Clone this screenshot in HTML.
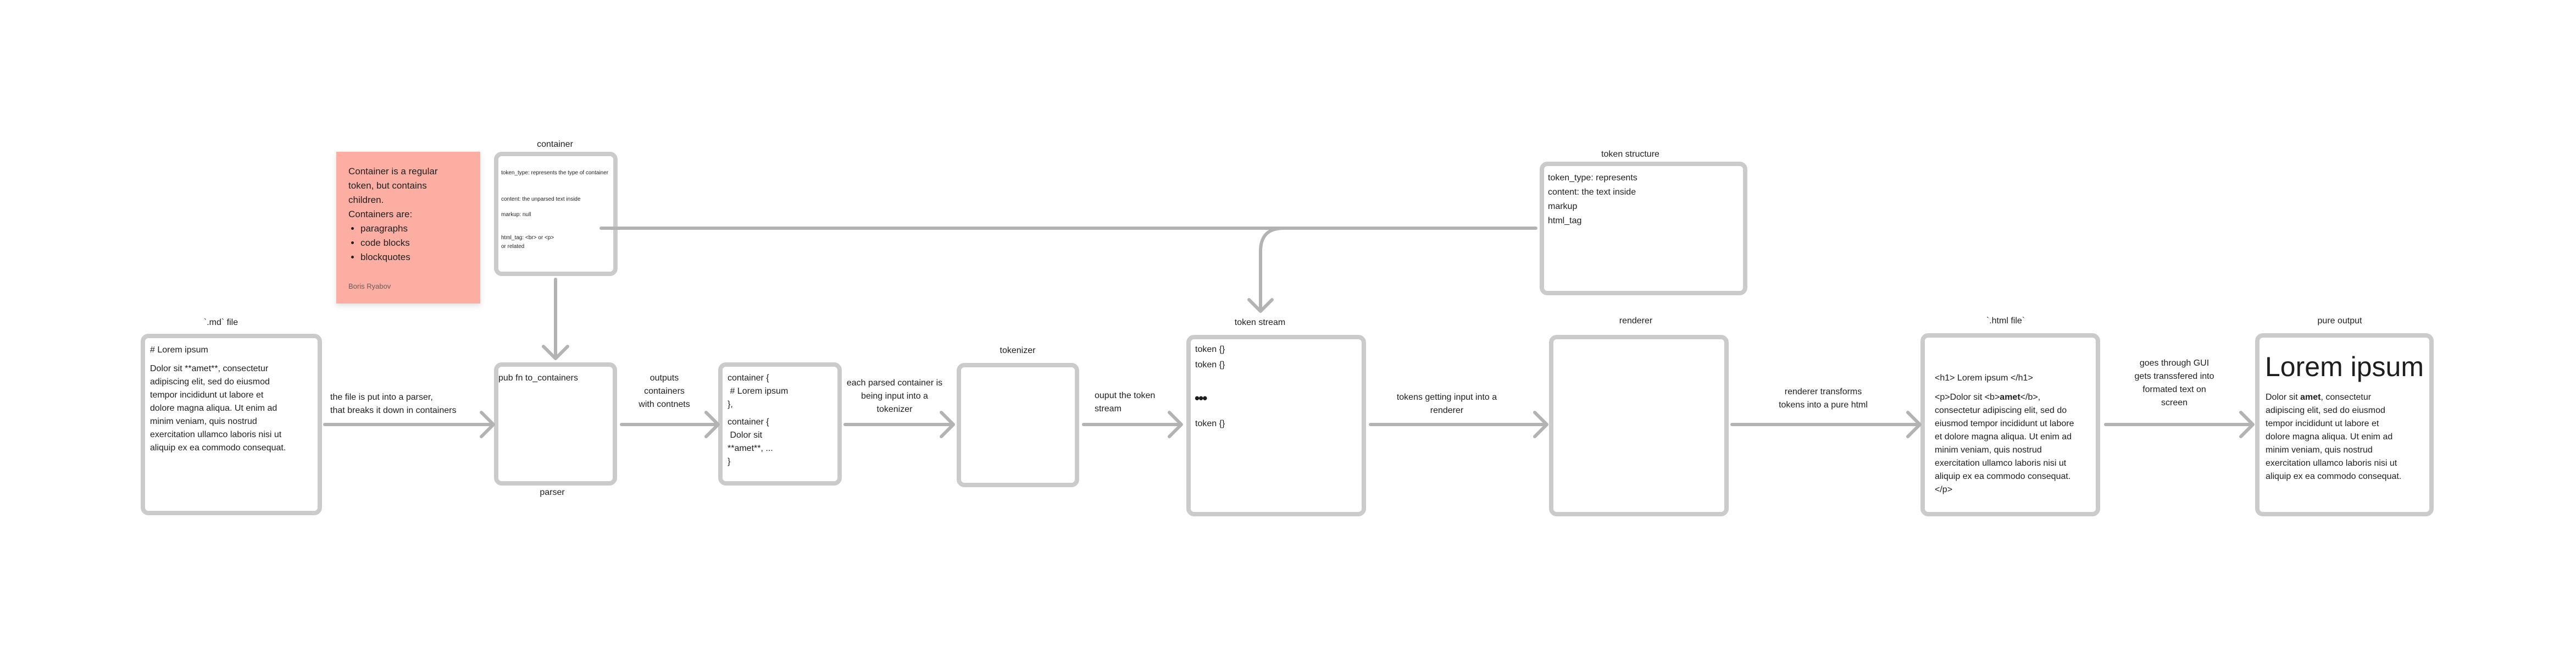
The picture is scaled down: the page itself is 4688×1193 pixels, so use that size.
<!DOCTYPE html>
<html><head><meta charset="utf-8"><style>
html,body{margin:0;padding:0;background:#fff;}
body{width:4688px;height:1193px;position:relative;overflow:hidden;font-family:"Liberation Sans",Arial,sans-serif;color:#1e1e1e;}
.t{position:absolute;font-size:16px;line-height:24px;white-space:nowrap;}
.c{text-align:center;transform:translateX(-50%);}
.s{position:absolute;font-size:10px;line-height:16px;white-space:nowrap;}
ul{margin:0;padding:0 0 0 22px;}
</style></head><body>
<svg width="4688" height="1193" style="position:absolute;left:0;top:0">
<defs><filter id="sh" x="-10%" y="-10%" width="130%" height="130%"><feDropShadow dx="0" dy="4" stdDeviation="5" flood-color="#000" flood-opacity="0.12"/></filter></defs>
<rect x="612" y="276" width="262" height="276" fill="#fdaea3" filter="url(#sh)"/>
<g fill="#fff" stroke="#cbcbcb" stroke-width="8">
<rect x="903" y="280" width="217" height="218" rx="10"/>
<rect x="260" y="611" width="322" height="322" rx="10"/>
<rect x="903" y="663" width="216" height="216" rx="10"/>
<rect x="1311" y="663" width="217" height="216" rx="10"/>
<rect x="1745" y="664" width="215" height="218" rx="10"/>
<rect x="2163" y="613" width="319" height="322" rx="10"/>
<rect x="2823" y="613" width="319" height="322" rx="10"/>
<rect x="2806" y="298" width="370" height="235" rx="10"/>
<rect x="3499" y="610" width="319" height="325" rx="10"/>
<rect x="4108" y="610" width="317" height="325" rx="10"/>
</g>
<g fill="none" stroke="#b3b3b3" stroke-width="6" stroke-linecap="round" stroke-linejoin="round">
<path d="M591 772 H896 M876 750 L898 772 L876 794"/>
<path d="M1131 772 H1305 M1285 750 L1307 772 L1285 794"/>
<path d="M1538 772 H1733 M1713 750 L1735 772 L1713 794"/>
<path d="M1972 772 H2148 M2128 750 L2150 772 L2128 794"/>
<path d="M2494 772 H2813 M2793 750 L2815 772 L2793 794"/>
<path d="M3152 772 H3492 M3472 750 L3494 772 L3472 794"/>
<path d="M3832 772 H4098 M4078 750 L4100 772 L4078 794"/>
<path d="M1011 508 V650 M989 630 L1011 652 L1033 630"/>
<path d="M1094 415 H2795"/>
<path d="M2336 415 Q2294 415 2294 457 V564 M2273 545 L2294 566 L2315 545"/>
</g>
</svg>

<div class="t" style="left:634px;top:299px;font-size:17px;line-height:26px;">Container is a regular<br>token, but contains<br>children.<br>Containers are:
<ul><li>paragraphs</li><li>code blocks</li><li>blockquotes</li></ul></div>
<div class="t" style="left:634px;top:511px;font-size:13px;line-height:20px;color:#6e5a57;">Boris Ryabov</div>

<div class="t c" style="left:1010px;top:251px;">container</div>
<div class="s" style="left:912px;top:307px;">token_type: represents the type of container</div>
<div class="s" style="left:912px;top:355px;">content: the unparsed text inside</div>
<div class="s" style="left:912px;top:383px;">markup: null</div>
<div class="s" style="left:912px;top:425px;">html_tag: &lt;br&gt; or &lt;p&gt;<br>or related</div>

<div class="t c" style="left:402px;top:575px;">`.md` file</div>
<div class="t" style="left:273px;top:625px;">#&nbsp;Lorem ipsum</div>
<div class="t" style="left:273px;top:659px;">Dolor sit **amet**, consectetur<br>adipiscing elit, sed do eiusmod<br>tempor incididunt ut labore et<br>dolore magna aliqua. Ut enim ad<br>minim veniam, quis nostrud<br>exercitation ullamco laboris nisi ut<br>aliquip ex ea commodo consequat.</div>
<div class="t" style="left:601px;top:711px;">the file is put into a parser,<br>that breaks it down in containers</div>

<div class="t" style="left:907px;top:676px;">pub fn to_containers</div>
<div class="t c" style="left:1005px;top:884px;">parser</div>
<div class="t c" style="left:1209px;top:676px;">outputs<br>containers<br>with contnets</div>

<div class="t" style="left:1324px;top:676px;">container {<br>&nbsp;# Lorem ipsum<br>},</div>
<div class="t" style="left:1324px;top:756px;">container {<br>&nbsp;Dolor sit<br>**amet**, ...<br>}</div>
<div class="t c" style="left:1628px;top:685px;">each parsed container is<br>being input into a<br>tokenizer</div>

<div class="t c" style="left:1852px;top:626px;">tokenizer</div>
<div class="t" style="left:1992px;top:708px;">ouput the token<br>stream</div>

<div class="t c" style="left:2293px;top:575px;">token stream</div>
<div class="t" style="left:2175px;top:624px;">token {}</div>
<div class="t" style="left:2175px;top:652px;">token {}</div>
<div class="t" style="left:2174px;top:712px;font-size:26px;font-weight:bold;letter-spacing:-2px;">•••</div>
<div class="t" style="left:2175px;top:759px;">token {}</div>
<div class="t c" style="left:2633px;top:711px;">tokens getting input into a<br>renderer</div>

<div class="t c" style="left:2977px;top:572px;">renderer</div>

<div class="t c" style="left:2967px;top:269px;">token structure</div>
<div class="t" style="left:2817px;top:311px;line-height:26px;">token_type: represents<br>content: the text inside<br>markup<br>html_tag</div>

<div class="t c" style="left:3318px;top:701px;">renderer transforms<br>tokens into a pure html</div>
<div class="t c" style="left:3650px;top:572px;">`.html file`</div>
<div class="t" style="left:3521px;top:676px;">&lt;h1&gt; Lorem ipsum &lt;/h1&gt;</div>
<div class="t" style="left:3521px;top:711px;">&lt;p&gt;Dolor sit &lt;b&gt;<b>amet</b>&lt;/b&gt;,<br>consectetur adipiscing elit, sed do<br>eiusmod tempor incididunt ut labore<br>et dolore magna aliqua. Ut enim ad<br>minim veniam, quis nostrud<br>exercitation ullamco laboris nisi ut<br>aliquip ex ea commodo consequat.<br>&lt;/p&gt;</div>
<div class="t c" style="left:3957px;top:649px;">goes through GUI<br>gets transsfered into<br>formated text on<br>screen</div>

<div class="t c" style="left:4258px;top:572px;">pure output</div>
<div class="t" style="left:4122px;top:637px;font-size:50px;line-height:60px;">Lorem ipsum</div>
<div class="t" style="left:4123px;top:711px;">Dolor sit <b>amet</b>, consectetur<br>adipiscing elit, sed do eiusmod<br>tempor incididunt ut labore et<br>dolore magna aliqua. Ut enim ad<br>minim veniam, quis nostrud<br>exercitation ullamco laboris nisi ut<br>aliquip ex ea commodo consequat.</div>
</body></html>
